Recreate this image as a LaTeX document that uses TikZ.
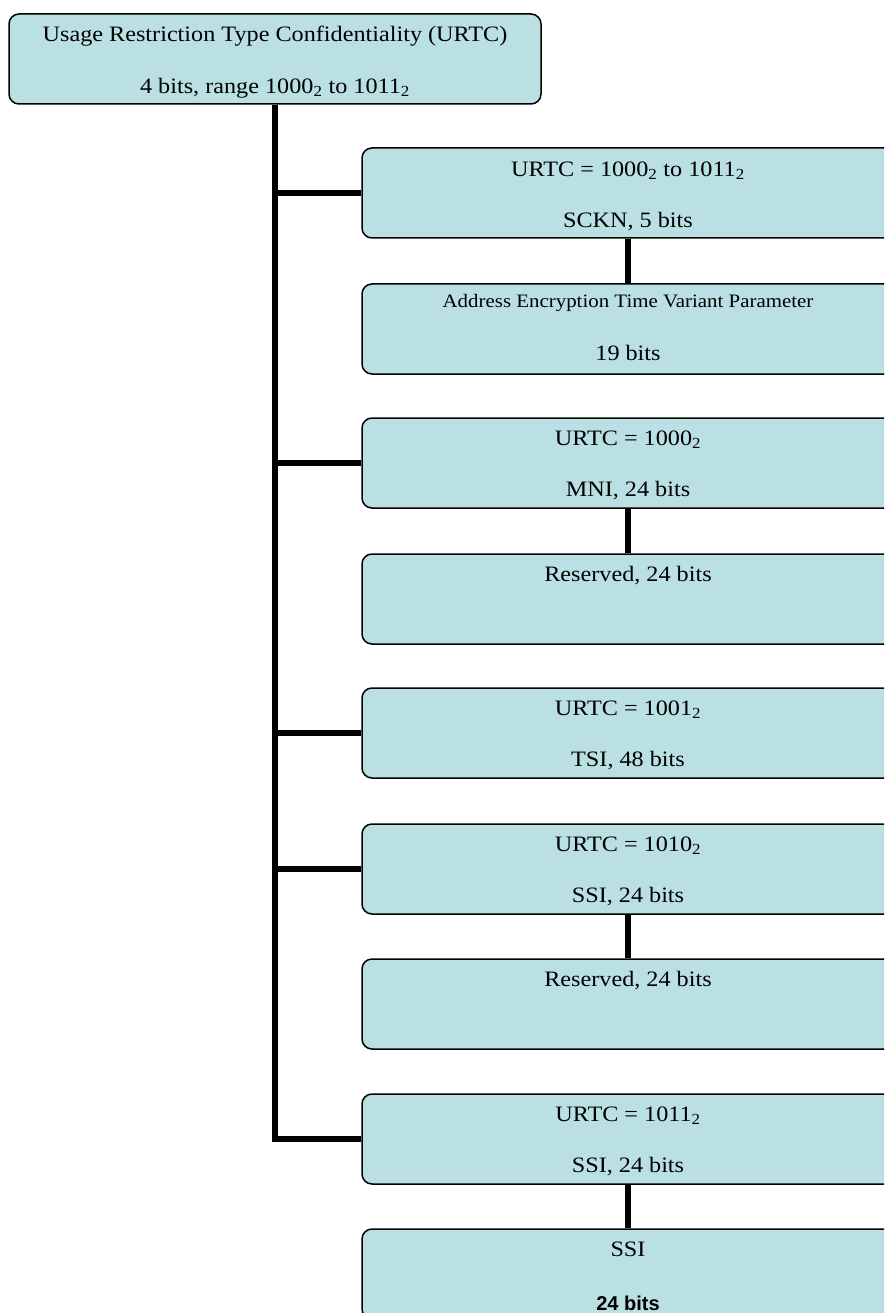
\documentclass[tikz,border=0pt]{standalone}
\usepackage{fontspec}
\setmainfont{Liberation Serif}[FakeStretch=1.1]
\newfontfamily\arialfont{Liberation Sans}
\definecolor{boxfill}{RGB}{186,224,228}
\begin{document}
\begin{tikzpicture}[x=1pt,y=-1pt,
  box/.style={draw=black, line width=1.5pt, fill=boxfill, rounded corners=10pt,
    minimum width=532pt, minimum height=90pt, inner sep=0pt},
  txt/.style={anchor=base, inner sep=0pt, font=\fontsize{22}{26}\selectfont},
  smalltxt/.style={anchor=base, inner sep=0pt, font=\fontsize{19}{23}\selectfont},
  conn/.style={line width=6pt, line join=miter, line cap=butt}]
\useasboundingbox (0,0) rectangle (884,1313);
\clip (0,0) rectangle (884,1313);
% boxes
\node[box] (top) at (275,59) {};
\node[box] (b1) at (628,193) {};
\node[box] (b2) at (628,329) {};
\node[box] (b3) at (628,463) {};
\node[box] (b4) at (628,599) {};
\node[box] (b5) at (628,733) {};
\node[box] (b6) at (628,869) {};
\node[box] (b7) at (628,1004) {};
\node[box] (b8) at (628,1139) {};
\node[box] (b9) at (628,1274) {};
% connectors
\draw[conn] (top.south) |- (b8.west);
\draw[conn] (top.south |- b1.west) -- (b1.west);
\draw[conn] (top.south |- b3.west) -- (b3.west);
\draw[conn] (top.south |- b5.west) -- (b5.west);
\draw[conn] (top.south |- b6.west) -- (b6.west);
\draw[conn] (b1.south) -- (b2.north);
\draw[conn] (b3.south) -- (b4.north);
\draw[conn] (b6.south) -- (b7.north);
\draw[conn] (b8.south) -- (b9.north);
% texts
\node[txt] (t0a) at ([yshift=-28pt]top.north) {Usage Restriction Type Confidentiality (URTC)};
\node[txt] (t0b) at ([yshift=11pt]top.south) {4 bits, range 1000\textsubscript{2} to 1011\textsubscript{2}};
\node[txt] (t1a) at ([yshift=-29pt]b1.north) {URTC = 1000\textsubscript{2} to 1011\textsubscript{2}};
\node[txt] (t1b) at ([yshift=11pt]b1.south) {SCKN, 5 bits};
\node[smalltxt] (t2a) at ([yshift=-24pt]b2.north) {Address Encryption Time Variant Parameter};
\node[txt] (t2b) at ([yshift=14pt]b2.south) {19 bits};
\node[txt] (t3a) at ([yshift=-28pt]b3.north) {URTC = 1000\textsubscript{2}};
\node[txt] (t3b) at ([yshift=12pt]b3.south) {MNI, 24 bits};
\node[txt] (t4a) at ([yshift=-28pt]b4.north) {Reserved, 24 bits};
\node[txt] (t5a) at ([yshift=-28pt]b5.north) {URTC = 1001\textsubscript{2}};
\node[txt] (t5b) at ([yshift=12pt]b5.south) {TSI, 48 bits};
\node[txt] (t6a) at ([yshift=-28pt]b6.north) {URTC = 1010\textsubscript{2}};
\node[txt] (t6b) at ([yshift=12pt]b6.south) {SSI, 24 bits};
\node[txt] (t7a) at ([yshift=-28pt]b7.north) {Reserved, 24 bits};
\node[txt] (t8a) at ([yshift=-28pt]b8.north) {URTC = 1011\textsubscript{2}};
\node[txt] (t8b) at ([yshift=12pt]b8.south) {SSI, 24 bits};
\node[txt] (t9a) at ([yshift=-28pt]b9.north) {SSI};
\node[anchor=base, inner sep=0pt, font=\arialfont\bfseries\fontsize{20}{24}\selectfont] (t9b) at ([yshift=-82pt]b9.north) {24 bits};
\end{tikzpicture}
\end{document}
